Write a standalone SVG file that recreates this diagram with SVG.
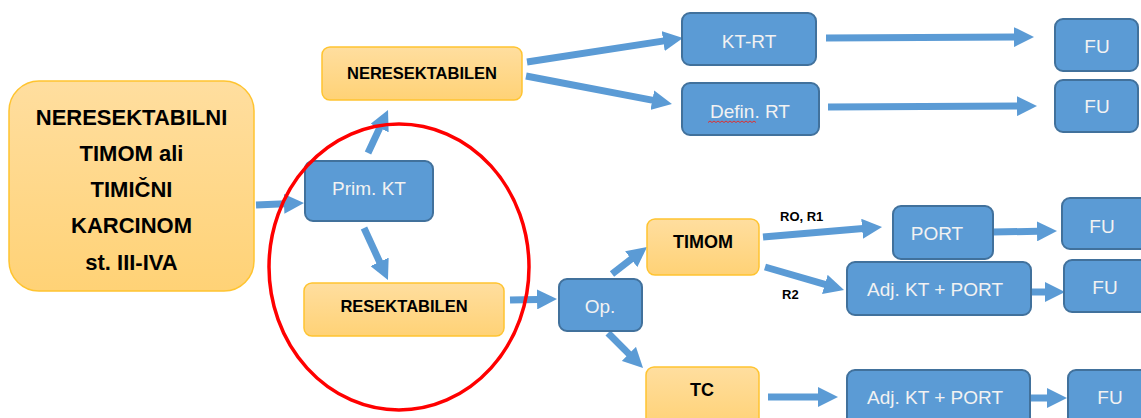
<svg xmlns="http://www.w3.org/2000/svg" width="1141" height="418" viewBox="0 0 1141 418">
<style>
.o{fill:url(#og);stroke:#FFC430;stroke-width:1.5}
.b{fill:#5B9BD5;stroke:#41719C;stroke-width:2}
.ot{font-family:"Liberation Sans",Arial,sans-serif;font-weight:bold;fill:#000;text-anchor:middle}
.bt{font-family:"Liberation Sans",Arial,sans-serif;font-size:19px;fill:#F2F2F2;text-anchor:middle}
.lb{font-family:"Liberation Sans",Arial,sans-serif;font-weight:bold;font-size:13px;fill:#000}
.a{stroke:#5B9BD5;stroke-width:7;fill:none;marker-end:url(#ah)}
</style>
<defs>
<linearGradient id="og" x1="0" y1="0" x2="0" y2="1">
<stop offset="0" stop-color="#FFDE9F"/>
<stop offset="1" stop-color="#FFD276"/>
</linearGradient>
<marker id="ah" markerUnits="userSpaceOnUse" viewBox="0 0 20 20" markerWidth="20" markerHeight="20" refX="1" refY="10" orient="auto">
<path d="M0,0 L20,10 L0,20 z" fill="#5B9BD5"/>
</marker>
</defs>
<rect width="1141" height="418" fill="#fff"/>
<g id="connectors">
<line class="a" x1="256" y1="205" x2="285" y2="203.8"/>
<line class="a" x1="368" y1="153" x2="380" y2="127.2"/>
<line class="a" x1="364" y1="228" x2="380" y2="262.7"/>
<line class="a" x1="510" y1="300" x2="538" y2="299.4"/>
<line class="a" x1="612" y1="274" x2="632" y2="258.6"/>
<line class="a" x1="608" y1="333" x2="629.6" y2="354.6"/>
<line class="a" x1="527" y1="62" x2="664.2" y2="40.9"/>
<line class="a" x1="526" y1="76" x2="653.3" y2="100.4"/>
<line class="a" x1="826" y1="38" x2="1015" y2="37.1"/>
<line class="a" x1="828" y1="107" x2="1018" y2="106.1"/>
<line class="a" x1="763" y1="237" x2="863.1" y2="228.6"/>
<line class="a" x1="765" y1="267" x2="825.8" y2="284.7"/>
<line class="a" x1="993" y1="232" x2="1038" y2="231.3"/>
<line class="a" x1="1031" y1="292" x2="1046" y2="292"/>
<line class="a" x1="768" y1="397" x2="819" y2="397"/>
<line class="a" x1="1030" y1="398" x2="1048" y2="398"/>
<text class="lb" x="780" y="221">RO, R1</text>
<text class="lb" x="782" y="299">R2</text>
</g>
<g id="start">
<rect class="o" x="9" y="81" width="245" height="210" rx="30"/>
<text class="ot" font-size="22" x="131.5" y="125">NERESEKTABILNI</text>
<text class="ot" font-size="22" x="131.5" y="161">TIMOM ali</text>
<text class="ot" font-size="22" x="131.5" y="197">TIMIČNI</text>
<text class="ot" font-size="22" x="131.5" y="233">KARCINOM</text>
<text class="ot" font-size="22" x="131.5" y="270">st. III-IVA</text>
</g>
<g id="neresektabilen">
<rect class="o" x="322" y="47" width="200" height="53" rx="8"/>
<text class="ot" font-size="16.5" x="422" y="79">NERESEKTABILEN</text>
</g>
<g id="primkt">
<rect class="b" x="305" y="161" width="128" height="60" rx="8"/>
<text class="bt" x="369" y="195">Prim. KT</text>
</g>
<g id="resektabilen">
<rect class="o" x="304" y="283" width="200" height="53" rx="8"/>
<text class="ot" font-size="16.5" x="404" y="312">RESEKTABILEN</text>
</g>
<g id="op">
<rect class="b" x="559" y="279" width="83" height="52" rx="8"/>
<text class="bt" x="600" y="313">Op.</text>
</g>
<g id="timom">
<rect class="o" x="647" y="219" width="112" height="56" rx="8"/>
<text class="ot" font-size="18" x="703" y="248">TIMOM</text>
</g>
<g id="tc">
<rect class="o" x="646" y="367" width="113" height="60" rx="8"/>
<text class="ot" font-size="18" x="702" y="396">TC</text>
</g>
<g id="ktrt">
<rect class="b" x="682" y="13" width="134" height="52" rx="8"/>
<text class="bt" x="749" y="48">KT-RT</text>
</g>
<g id="definrt">
<rect class="b" x="682" y="83" width="137" height="52" rx="8"/>
<text class="bt" x="750" y="118">Defin. RT</text>
<path d="M708,122.5 l2,-1.5 l2,1.5 l2,-1.5 l2,1.5 l2,-1.5 l2,1.5 l2,-1.5 l2,1.5 l2,-1.5 l2,1.5 l2,-1.5 l2,1.5 l2,-1.5 l2,1.5 l2,-1.5 l2,1.5 l2,-1.5 l2,1.5 l2,-1.5 l2,1.5 l2,-1.5 l2,1.5 l2,-1.5 l2,1.5" fill="none" stroke="#E03030" stroke-width="1"/>
</g>
<g id="fu1">
<rect class="b" x="1055" y="19" width="83" height="52" rx="8"/>
<text class="bt" x="1097" y="53">FU</text>
</g>
<g id="fu2">
<rect class="b" x="1055" y="80" width="83" height="52" rx="8"/>
<text class="bt" x="1097" y="113">FU</text>
</g>
<g id="port">
<rect class="b" x="893" y="206" width="100" height="53" rx="8"/>
<text class="bt" x="937" y="240">PORT</text>
</g>
<g id="adj1">
<rect class="b" x="847" y="262" width="184" height="53" rx="8"/>
<text class="bt" x="935" y="296">Adj. KT + PORT</text>
</g>
<g id="fu3">
<rect class="b" x="1062" y="198" width="86" height="51" rx="8"/>
<text class="bt" x="1102" y="233">FU</text>
</g>
<g id="fu4">
<rect class="b" x="1064" y="260" width="86" height="52" rx="8"/>
<text class="bt" x="1105" y="294">FU</text>
</g>
<g id="adj2">
<rect class="b" x="847" y="370" width="183" height="60" rx="8"/>
<text class="bt" x="935" y="404">Adj. KT + PORT</text>
</g>
<g id="fu5">
<rect class="b" x="1068" y="370" width="86" height="60" rx="8"/>
<text class="bt" x="1110" y="404">FU</text>
</g>
<ellipse cx="399" cy="267" rx="130" ry="143" fill="none" stroke="#FF0000" stroke-width="3.5"/>
</svg>
